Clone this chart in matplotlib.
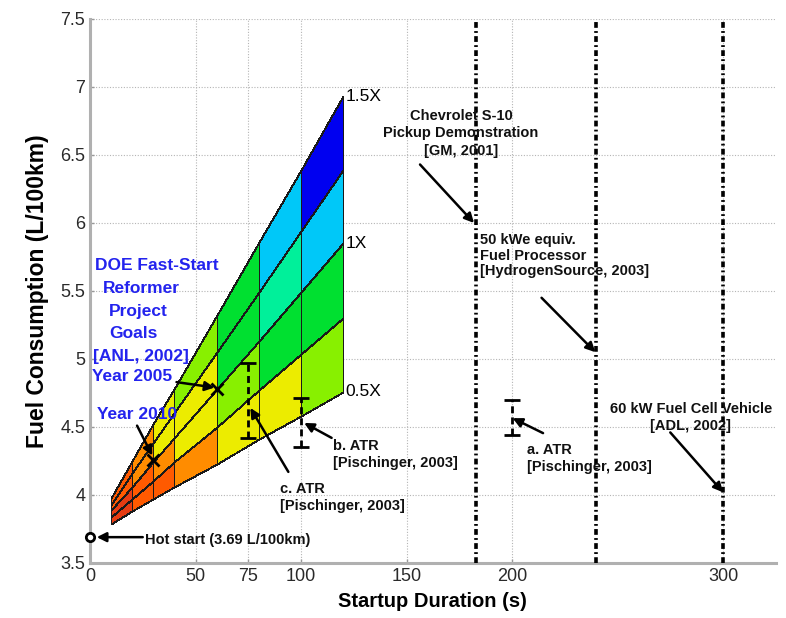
import matplotlib
matplotlib.use("Agg")
import matplotlib.pyplot as plt
import numpy as np
from matplotlib.colors import ListedColormap, BoundaryNorm
from matplotlib.ticker import FormatStrFormatter

plt.rcParams['font.family'] = ['Liberation Sans', 'DejaVu Sans']
narrow = ['Liberation Sans Narrow', 'Liberation Sans', 'DejaVu Sans']

# Fan of DOE targets: fuel consumption vs. startup duration for 0.5X .. 1.5X
fan_x = [10, 20, 30, 40, 60, 80, 100, 120]
fan_levels = ['0.5X', '0.75X', '1X', '1.25X', '1.5X']
fan_fuel = [
    [3.79, 3.88, 3.97, 4.06, 4.23, 4.41, 4.58, 4.76],   # 0.5X
    [3.84, 3.97, 4.10, 4.24, 4.50, 4.77, 5.04, 5.30],   # 0.75X
    [3.89, 4.06, 4.24, 4.42, 4.78, 5.13, 5.49, 5.85],   # 1X
    [3.93, 4.16, 4.38, 4.60, 5.05, 5.49, 5.94, 6.39],   # 1.25X
    [3.98, 4.25, 4.52, 4.78, 5.32, 5.86, 6.39, 6.93],   # 1.5X
]
labelled_levels = ['0.5X', '1X', '1.5X']

# Colour classes for the fan cells (L/100km)
fuel_bounds = [3.0, 4.1, 4.3, 4.55, 5.1, 5.4, 5.9, 6.2, 6.6, 8.0]
fuel_colors = ['#e63c12', '#ff5a00', '#ff8c00', '#ecec00', '#88f000',
               '#00e030', '#00f09a', '#00c8f8', '#0000f0']

# DOE goals
goal_names = ['Year 2005', 'Year 2010']
goal_x = [60, 30]
goal_fuel = [4.78, 4.26]

# Hot start
hot_x = 0
hot_fuel = 3.69

# Autothermal reformer results (ranges)
atr_names = ['a. ATR', 'b. ATR', 'c. ATR']
atr_x = [200, 100, 75]
atr_low = [4.44, 4.355, 4.42]
atr_high = [4.70, 4.71, 4.97]

# Demonstrated startup times
demo_x = [183, 240, 300]

x_ticks = [0, 50, 75, 100, 150, 200, 300]
y_ticks = [3.5, 4, 4.5, 5, 5.5, 6, 6.5, 7, 7.5]

fig = plt.figure(figsize=(7.86, 6.18), dpi=100)
ax = fig.add_axes([0.1145, 0.089, 0.8725, 0.8803])
ax.set_xlim(0, 325)
ax.set_ylim(3.5, 7.5)

# fan mesh, coloured by the fuel value at each cell's far corner
X = np.tile(np.array(fan_x, dtype=float), (len(fan_levels), 1))
Y = np.array(fan_fuel)
C = Y[1:, 1:]
cmap = ListedColormap(fuel_colors)
norm = BoundaryNorm(fuel_bounds, cmap.N)
ax.pcolormesh(X, Y, C, cmap=cmap, norm=norm, shading='flat',
              edgecolors='#1a1a1a', linewidth=0.6, zorder=2)

for lvl in labelled_levels:
    i = fan_levels.index(lvl)
    ax.text(fan_x[-1] + 1, fan_fuel[i][-1], lvl, fontsize=12.5,
            va='center', ha='left', zorder=6)

# demonstration lines
for xv in demo_x:
    ax.axvline(xv, color='black', lw=2.6,
               linestyle=(0, (1.6, 0.9, 0.5, 0.9)), zorder=3)

# ATR ranges
ax.vlines(atr_x, atr_low, atr_high, colors='black', linestyles=(0, (2.5, 1.5)),
          lw=2, zorder=5)
ax.plot(atr_x, atr_low, '_', color='black', ms=11, mew=2, zorder=5)
ax.plot(atr_x, atr_high, '_', color='black', ms=11, mew=2, zorder=5)

# goals and hot start
ax.plot(goal_x, goal_fuel, 'x', color='black', ms=9, mew=2, zorder=6)
ax.plot([hot_x], [hot_fuel], 'o', mfc='white', mec='black', ms=6, mew=2,
        clip_on=False, zorder=7)

arrow = dict(arrowstyle='-|>', color='black', lw=1.8, mutation_scale=14,
             shrinkA=0, shrinkB=0)

def arrow_to(tip, tail):
    ax.annotate('', xy=tip, xytext=tail, arrowprops=arrow, zorder=8)

txt = dict(fontsize=10.5, fontweight='bold', color='#111111', zorder=8)

# DOE goal labels
blue = '#2323ee'
doe_lines = ['DOE Fast-Start', 'Reformer', 'Project', 'Goals', '[ANL, 2002]']
doe_cx = [31.8, 24.2, 22.7, 20.4, 24.2]
doe_y = [5.69, 5.52, 5.35, 5.19, 5.02]
for s, cx, cy in zip(doe_lines, doe_cx, doe_y):
    ax.text(cx, cy, s, color=blue, fontsize=12.5, fontweight='bold',
            ha='center', va='center', zorder=8)
ax.text(0.8, 4.87, goal_names[0], color=blue, fontsize=12.5,
        fontweight='bold', ha='left', va='center', zorder=8)
ax.text(3.3, 4.59, goal_names[1], color=blue, fontsize=12.5,
        fontweight='bold', ha='left', va='center', zorder=8)
arrow_to((goal_x[0] - 1, goal_fuel[0] + 0.01), (41, 4.83))
arrow_to((goal_x[1] - 0.5, goal_fuel[1] + 0.03), (22.3, 4.51))

# hot start label
ax.text(26, hot_fuel - 0.02, 'Hot start (3.69 L/100km)', ha='left',
        va='center', **txt)
arrow_to((3.2, hot_fuel), (25, hot_fuel))

# ATR labels
ax.text(207, 4.27, atr_names[0] + '\n[Pischinger, 2003]', ha='left',
        va='center', linespacing=1.25, **txt)
arrow_to((atr_x[0] + 0.3, 4.565), (214.7, 4.455))
ax.text(115.2, 4.30, atr_names[1] + '\n[Pischinger, 2003]', ha='left',
        va='center', linespacing=1.25, **txt)
arrow_to((atr_x[1] + 1.5, 4.53), (114.5, 4.42))
ax.text(90.0, 3.98, atr_names[2] + '\n[Pischinger, 2003]', ha='left',
        va='center', linespacing=1.25, **txt)
arrow_to((atr_x[2] + 1, 4.64), (94, 4.17))

# demonstration labels
ax.text(175.8, 6.66, 'Chevrolet S-10\nPickup Demonstration\n[GM, 2001]',
        ha='center', va='center', linespacing=1.3, **txt)
arrow_to((demo_x[0] - 1, 6.0), (156.4, 6.43))
ax.text(184.8, 5.76, '50 kWe equiv.\nFuel Processor\n[HydrogenSource, 2003]',
        ha='left', va='center', linespacing=1.15, **txt)
arrow_to((demo_x[1] - 0.5, 5.05), (214, 5.45))
ax.text(284.8, 4.57, '60 kW Fuel Cell Vehicle\n[ADL, 2002]',
        ha='center', va='center', linespacing=1.25, **txt)
arrow_to((demo_x[2], 4.02), (275, 4.46))

# axes styling
ax.set_xticks(x_ticks)
ax.set_yticks(y_ticks)
ax.yaxis.set_major_formatter(FormatStrFormatter('%g'))
ax.tick_params(labelsize=13, length=3, width=1, direction='in',
               colors='#999999', labelcolor='#2a2a2a')
for lab in ax.get_xticklabels() + ax.get_yticklabels():
    lab.set_family(narrow)
ax.grid(True, linestyle=(0, (1, 1.5)), color='#b5b5b5', lw=0.8)
ax.set_axisbelow(True)
for side in ('top', 'right'):
    ax.spines[side].set_visible(False)
for side in ('left', 'bottom'):
    ax.spines[side].set_color('#b0b0b0')
    ax.spines[side].set_linewidth(2.2)

ax.set_xlabel('Startup Duration (s)', fontsize=14.5, fontweight='bold',
              labelpad=5)
ax.set_ylabel('Fuel Consumption (L/100km)', fontsize=16.5, fontweight='bold',
              labelpad=8)

fig.savefig('out.png', dpi=100)
